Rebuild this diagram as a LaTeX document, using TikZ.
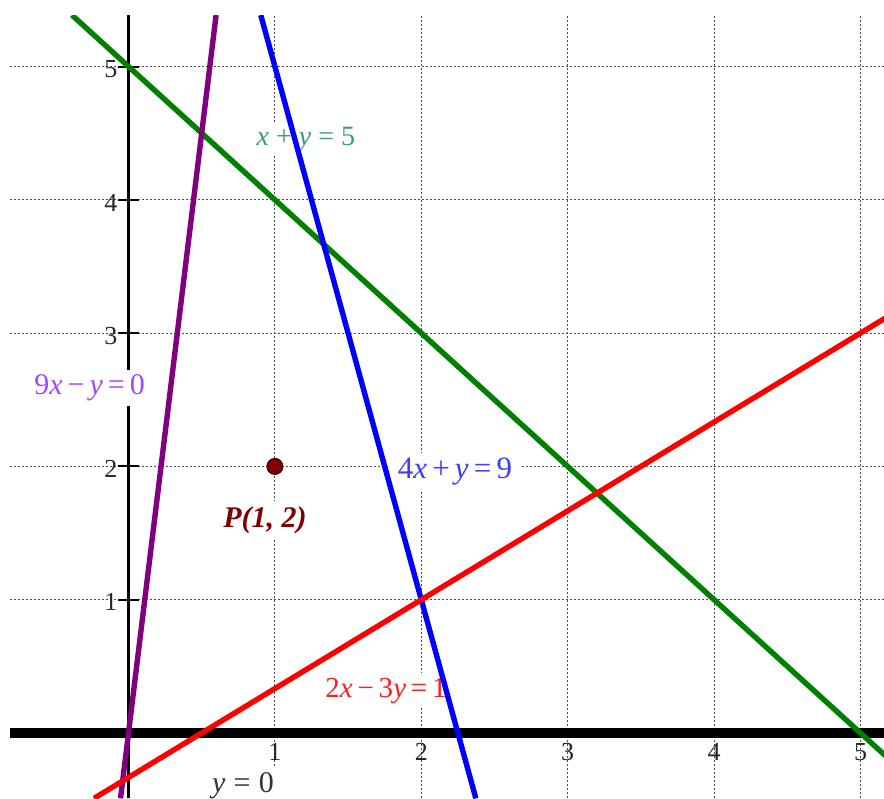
\documentclass[tikz,border=0pt]{standalone}
\usepackage{fontspec}
\setmainfont{Liberation Serif}
\definecolor{lgreen}{RGB}{0,128,0}
\definecolor{lpurple}{RGB}{128,0,128}
\definecolor{lblue}{RGB}{0,0,255}
\definecolor{lred}{RGB}{255,0,0}
\definecolor{teallab}{RGB}{60,155,125}
\definecolor{violetlab}{RGB}{165,70,255}
\definecolor{bluelab}{RGB}{60,60,255}
\definecolor{redlab}{RGB}{255,30,30}
\definecolor{maroonlab}{RGB}{128,0,0}
\begin{document}
\begin{tikzpicture}[x=73.2pt,y=66.65pt,
  gridline/.style={draw=black!70, line width=0.6pt, dash pattern=on 1pt off 1pt},
  curve/.style={line width=2.7pt},
  eqlabel/.style={fill=white, inner xsep=4pt, inner ysep=2.5pt, anchor=base, font=\fontsize{14}{16}\selectfont},
  ticklabel/.style={font=\fontsize{13}{15}\selectfont, text=black!85, inner sep=1pt}]
\useasboundingbox (-0.8777,-0.4876) rectangle (5.1605,5.499);
% grid
\foreach \i in {1,...,5} {
  \draw[gridline] (\i,-0.49) -- (\i,5.386);
  \draw[gridline] (-0.809,\i) -- (5.17,\i);
}
% y axis with ticks
\draw[line width=1.3pt] (0,-0.49) -- (0,5.386);
\foreach \i in {1,...,5} \draw[line width=1pt] (-0.07,\i) -- (0.07,\i);
\foreach \i in {1,...,5} \node[ticklabel] (yl\i) at (-0.12,\i-0.02) {\i};
\foreach \i in {1,...,5} \node[ticklabel] (xl\i) at (\i,-0.145) {\i};
% x axis
\draw[line width=5pt] (-0.809,0) -- (5.17,0);
% equation labels
\node[eqlabel, text=violetlab, font=\fontsize{15}{17}\selectfont] (lpur) at (-0.266,2.536) {9\textit{x}\,−\,\textit{y}\,=\,0};
\node[eqlabel, text=teallab] (lgrn) at (1.212,4.411) {\textit{x} + \textit{y} = 5};
\node[eqlabel, text=bluelab, font=\fontsize{15.5}{17}\selectfont] (lblu) at (2.230,1.911) {4\textit{x}\,+\,\textit{y}\,=\,9};
\node[eqlabel, text=redlab, font=\fontsize{14.5}{16}\selectfont] (lred) at (1.759,0.270) {2\textit{x}\,−\,3\textit{y}\,=\,1};
\node[eqlabel, text=maroonlab, font=\fontsize{15}{17}\selectfont\bfseries\itshape] (lP) at (0.932,1.545) {P(1, 2)};
\node[eqlabel, text=black!80, font=\fontsize{15}{17}\selectfont] (ly0) at (0.782,-0.445) {\textit{y}\;=\;0};
% lines
\begin{scope}
\clip (-0.8777,-0.4876) rectangle (5.1605,5.386);
\draw[curve, lgreen] (-0.386,5.386) -- (5.6,-0.6);
\draw[curve, lpurple] (0.5984,5.386) -- (-0.0544,-0.49);
\draw[curve, lblue] (0.9035,5.386) -- (2.3725,-0.49);
\draw[curve, lred] (-0.235,-0.49) -- (5.3,3.2);
\end{scope}
% point
\node[circle, fill=maroonlab, draw=black!80!red, line width=0.5pt, minimum size=8pt, inner sep=0pt] (P) at (1,2) {};
\end{tikzpicture}
\end{document}
